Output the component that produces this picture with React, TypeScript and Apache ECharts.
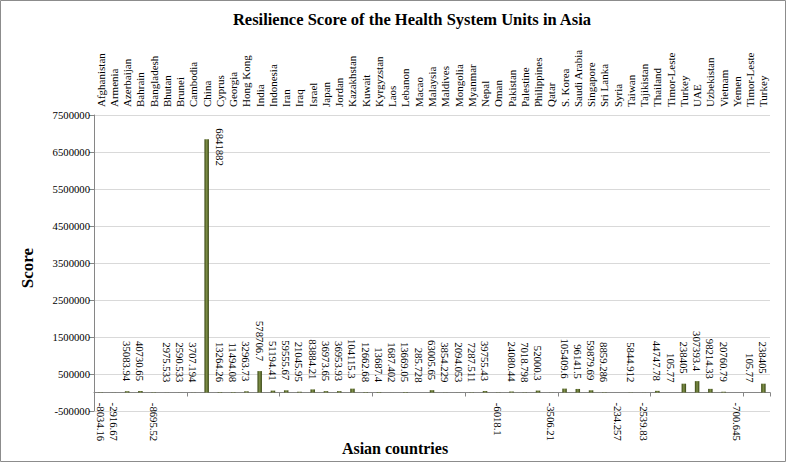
import React, { useEffect, useRef } from "react";
import * as echarts from "echarts";

const categories = [
  "Afghanistan", "Armenia", "Azerbaijan", "Bahrain", "Bangladesh", "Bhutan", "Brunei",
  "Cambodia", "China", "Cyprus", "Georgia", "Hong Kong", "India", "Indonesia", "Iran",
  "Iraq", "Israel", "Japan", "Jordan", "Kazakhstan", "Kuwait", "Kyrgyzstan", "Laos",
  "Lebanon", "Macao", "Malaysia", "Maldives", "Mongolia", "Myanmar", "Nepal", "Oman",
  "Pakistan", "Palestine", "Philippines", "Qatar", "S. Korea", "Saudi Arabia",
  "Singapore", "Sri Lanka", "Syria", "Taiwan", "Tajikistan", "Thailand", "Timor-Leste",
  "Turkey", "UAE", "Uzbekistan", "Vietnam", "Yemen", "Timor-Leste", "Turkey",
];

const scores = [
  -8034.16, -2916.67, 35083.94, 40730.65, -8695.52, 2975.533, 2590.533,
  3707.194, 6841882, 13264.26, 11494.08, 32963.73, 578706.7, 51194.41, 59555.67,
  21045.95, 83884.21, 36973.65, 36953.93, 104115.3, 12662.68, 13687.4, 1687.402,
  13669.05, 285.728, 63005.65, 3854.229, 2094.053, 7287.511, 39755.43, -6018.1,
  24080.44, 7018.798, 52000.3, -3506.21, 105409.6, 96141.5,
  59879.69, 8859.286, -234.257, 5844.912, -2539.83, 44747.78, 105.77,
  238405, 307393.4, 98214.33, 20760.79, -700.645, 105.77, 238405,
];

const yMin = -500000;
const yMax = 7500000;
const yInterval = 1000000;

const titleText = "Resilience Score of the Health System Units in Asia";
const yName = "Score";
const xName = "Asian countries";

const FONT = "'Liberation Serif', 'Times New Roman', serif";

export default function App() {
  const ref = useRef<HTMLDivElement>(null);

  useEffect(() => {
    document.body.style.margin = "0";
    if (!ref.current) return;
    const chart = echarts.init(ref.current, undefined, { renderer: "svg" });

    const maxVal = Math.max(...scores);
    const barColor = new echarts.graphic.LinearGradient(0, 0, 1, 0, [
      { offset: 0, color: "#3a4814" },
      { offset: 0.5, color: "#7f9048" },
      { offset: 1, color: "#354212" },
    ]);

    const baseLabel = {
      show: true,
      rotate: -90,
      verticalAlign: "middle",
      color: "#000",
      fontFamily: FONT,
      fontSize: 10.7,
      formatter: (p: any) => String(p.value),
    };

    const data = scores.map((v) => {
      if (v === maxVal) {
        return {
          value: v,
          label: { ...baseLabel, position: [16, -11], align: "left" },
        };
      }
      if (v < 0) {
        return {
          value: v,
          label: { ...baseLabel, position: "bottom", distance: 10, align: "left" },
        };
      }
      return {
        value: v,
        label: { ...baseLabel, position: "top", distance: 10, align: "right" },
      };
    });

    chart.setOption({
      animation: false,
      backgroundColor: "#fff",
      textStyle: { fontFamily: FONT },
      grid: { left: 94, right: 17, top: 115, bottom: 52, containLabel: false },
      xAxis: [
        {
          type: "category",
          data: categories,
          position: "bottom",
          axisLine: { show: true, onZero: true, lineStyle: { color: "#868686", width: 1 } },
          axisTick: { show: true, length: 4, lineStyle: { color: "#868686" } },
          axisLabel: { show: false },
          splitLine: { show: false },
        },
        {
          type: "category",
          data: categories,
          position: "top",
          axisLine: { show: false, onZero: false },
          axisTick: { show: false },
          axisLabel: {
            show: true,
            interval: 0,
            rotate: -90,
            align: "left",
            verticalAlign: "middle",
            margin: 8,
            color: "#000",
            fontFamily: FONT,
            fontSize: 11,
          },
          splitLine: { show: false },
        },
      ],
      yAxis: {
        type: "value",
        min: yMin,
        max: yMax,
        interval: yInterval,
        axisLine: { show: true, lineStyle: { color: "#868686", width: 1 } },
        axisTick: { show: true, length: 5, lineStyle: { color: "#868686" } },
        axisLabel: {
          color: "#000",
          fontFamily: FONT,
          fontSize: 10.7,
          margin: 4,
          formatter: (v: number) => String(v),
        },
        splitLine: { show: true, lineStyle: { color: "#d9d9d9", width: 1 } },
      },
      series: [
        {
          type: "bar",
          xAxisIndex: 0,
          yAxisIndex: 0,
          barWidth: 4.5,
          itemStyle: { color: barColor },
          data,
        },
      ],
      graphic: [
        {
          type: "rect",
          shape: { x: 0.5, y: 0.5, width: 785, height: 461 },
          style: { fill: "none", stroke: "#8c8c8c", lineWidth: 1 },
          silent: true,
          z: 0,
        },
        {
          type: "text",
          x: 412,
          y: 19,
          style: {
            text: titleText,
            fontFamily: FONT,
            fontWeight: "bold",
            fontSize: 16.5,
            fill: "#000",
            textAlign: "center",
            textVerticalAlign: "middle",
          },
        },
        {
          type: "text",
          x: 27,
          y: 268,
          rotation: Math.PI / 2,
          style: {
            text: yName,
            fontFamily: FONT,
            fontWeight: "bold",
            fontSize: 17,
            fill: "#000",
            textAlign: "center",
            textVerticalAlign: "middle",
          },
        },
        {
          type: "text",
          x: 395,
          y: 448,
          style: {
            text: xName,
            fontFamily: FONT,
            fontWeight: "bold",
            fontSize: 16,
            fill: "#000",
            textAlign: "center",
            textVerticalAlign: "middle",
          },
        },
      ],
    });

    return () => chart.dispose();
  }, []);

  return <div ref={ref} style={{ width: 787, height: 463 }} />;
}
